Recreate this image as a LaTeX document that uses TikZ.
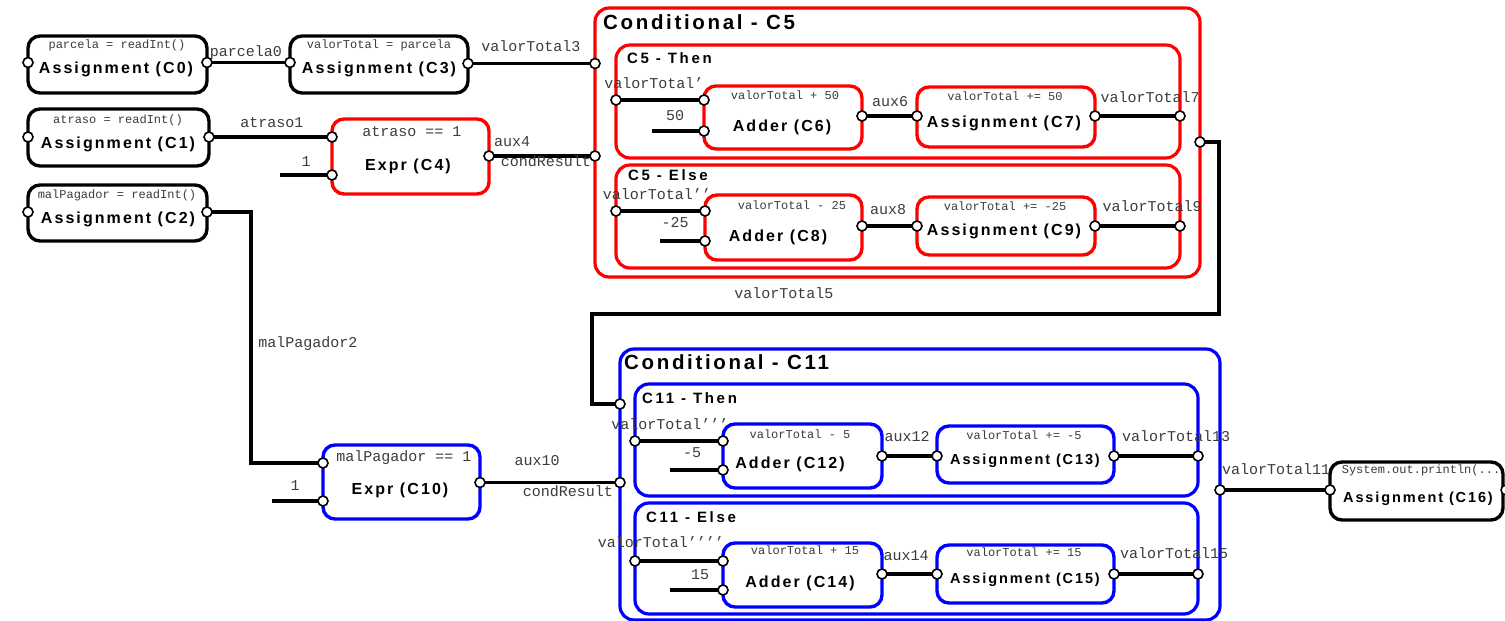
\documentclass[tikz,border=0pt]{standalone}
\usepackage{fontspec}
\setmainfont{Liberation Sans}
\newfontfamily\spaced{Liberation Sans}[LetterSpace=18]
\newfontfamily\spacedname{Liberation Sans}[LetterSpace=13]
\newfontfamily\spacedbig{Liberation Sans}[LetterSpace=13]
\newfontfamily\codefont{Liberation Mono}
\definecolor{codegray}{RGB}{60,60,60}
\definecolor{condred}{RGB}{255,0,0}
\definecolor{condblue}{RGB}{0,0,255}

\tikzset{
  block/.style={draw, rounded corners=12, line width=3.4, inner sep=0},
  grp/.style={draw, rounded corners=14, line width=3.2, inner sep=0},
  wire/.style={line width=3.3},
  port/.style={circle, draw, fill=white, line width=1.6, minimum size=10, inner sep=0},
  blockname/.style={anchor=base, inner sep=0, font=\spacedname\bfseries\fontsize{16}{18}\selectfont},
  blocknamesmall/.style={anchor=base, inner sep=0, font=\spacedname\bfseries\fontsize{14.5}{16}\selectfont},
  code/.style={anchor=base, inner sep=0, text=codegray, font=\codefont\fontsize{12}{14}\selectfont},
  lbl/.style={anchor=base, inner sep=0, text=codegray, font=\codefont\fontsize{15}{17}\selectfont},
  grptitle/.style={anchor=base west, inner sep=0, font=\spaced\bfseries\fontsize{15}{17}\selectfont},
  bigtitle/.style={anchor=base west, inner sep=0, font=\spacedbig\bfseries\fontsize{20.5}{22}\selectfont},
}

\begin{document}
\begin{tikzpicture}[x=1pt, y=-1pt]
\fill[white] (0,0) rectangle (1505,621);
\useasboundingbox (0,0) rectangle (1505,621);

% ---------- conditional groups ----------
\node[grp, draw=condred, minimum width=605, minimum height=269] (c5) at (897.5,142.5) {};
\node[grp, draw=condred, minimum width=564, minimum height=113] (c5then) at (898,101.5) {};
\node[grp, draw=condred, minimum width=564, minimum height=103] (c5else) at (898,216.5) {};
\node[grp, draw=condblue, minimum width=600, minimum height=271] (c11) at (920,484.5) {};
\node[grp, draw=condblue, minimum width=563, minimum height=112] (c11then) at (916.5,440) {};
\node[grp, draw=condblue, minimum width=563, minimum height=111] (c11else) at (916.5,558.5) {};

\node[bigtitle] (t5) at (603,29.5) {Conditional - C5};
\node[grptitle] (t5a) at (627,63.5) {C5 - Then};
\node[grptitle] (t5b) at (628,180.5) {C5 - Else};
\node[bigtitle] (t11) at (624,369.5) {Conditional - C11};
\node[grptitle] (t11a) at (642,403.5) {C11 - Then};
\node[grptitle] (t11b) at (646,522.5) {C11 - Else};

% ---------- blocks ----------
\node[block, minimum width=179, minimum height=57] (c0) at (117.5,64.5) {};
\node[block, minimum width=178, minimum height=57] (c3) at (379,64.5) {};
\node[block, minimum width=181, minimum height=57] (c1) at (118.5,137.5) {};
\node[block, minimum width=179, minimum height=56] (c2) at (117.5,213) {};
\node[block, draw=condred, minimum width=157, minimum height=75] (c4) at (410.5,156.5) {};
\node[block, draw=condblue, minimum width=157, minimum height=74] (c10) at (401.5,482) {};
\node[block, draw=condred, minimum width=158, minimum height=63] (c6) at (783,117.5) {};
\node[block, draw=condred, minimum width=178, minimum height=60] (c7) at (1006,117) {};
\node[block, draw=condred, minimum width=157, minimum height=65] (c8) at (783.5,227.5) {};
\node[block, draw=condred, minimum width=178, minimum height=58] (c9) at (1006,226) {};
\node[block, draw=condblue, minimum width=159, minimum height=64] (c12) at (802.5,456) {};
\node[block, draw=condblue, minimum width=177, minimum height=57] (c13) at (1025.5,454.5) {};
\node[block, draw=condblue, minimum width=159, minimum height=64] (c14) at (802.5,575) {};
\node[block, draw=condblue, minimum width=177, minimum height=58] (c15) at (1025.5,574) {};
\node[block, minimum width=173, minimum height=58] (c16) at (1416.5,491) {};

% block texts
\node[code] (c0code) at (117,48.5) {parcela = readInt()};
\node[blockname] (c0name) at (116,73) {Assignment (C0)};
\node[code] (c3code) at (379,48.5) {valorTotal = parcela};
\node[blockname] (c3name) at (379,73) {Assignment (C3)};
\node[code] (c1code) at (118,123.5) {atraso = readInt()};
\node[blockname] (c1name) at (118,148) {Assignment (C1)};
\node[code] (c2code) at (117,198.5) {malPagador = readInt()};
\node[blockname] (c2name) at (118,223) {Assignment (C2)};
\node[lbl] (c4code) at (412,136) {atraso == 1};
\node[blockname] (c4name) at (408,170.5) {Expr (C4)};
\node[lbl] (c10code) at (404,461) {malPagador == 1};
\node[blockname] (c10name) at (400,494.5) {Expr (C10)};
\node[code] (c6code) at (785,99.5) {valorTotal + 50};
\node[blockname] (c6name) at (782,131.5) {Adder (C6)};
\node[code] (c7code) at (1005,100.5) {valorTotal += 50};
\node[blockname] (c7name) at (1004,127.5) {Assignment (C7)};
\node[code] (c8code) at (792,209.5) {valorTotal - 25};
\node[blockname] (c8name) at (778,241.5) {Adder (C8)};
\node[code] (c9code) at (1005,210.5) {valorTotal += -25};
\node[blockname] (c9name) at (1004,235.5) {Assignment (C9)};
\node[code] (c12code) at (800,438.5) {valorTotal - 5};
\node[blockname] (c12name) at (790,468.5) {Adder (C12)};
\node[code] (c13code) at (1024,439.5) {valorTotal += -5};
\node[blocknamesmall] (c13name) at (1025,464) {Assignment (C13)};
\node[code] (c14code) at (805,554.5) {valorTotal + 15};
\node[blockname] (c14name) at (800,587.5) {Adder (C14)};
\node[code] (c15code) at (1024,556.5) {valorTotal += 15};
\node[blocknamesmall] (c15name) at (1025,583) {Assignment (C15)};
\node[code] (c16code) at (1421,473.5) {System.out.println(...};
\node[blocknamesmall] (c16name) at (1418,502) {Assignment (C16)};

% ---------- ports ----------
\coordinate (c0i) at (28,62.5);  \coordinate (c0o) at (207,62.5);
\coordinate (c3i) at (290,62.5); \coordinate (c3o) at (468,63.5);
\coordinate (c1i) at (28,137);   \coordinate (c1o) at (209,137);
\coordinate (c2i) at (28,212);   \coordinate (c2o) at (207,212);
\coordinate (c4a) at (332,137);  \coordinate (c4b) at (332,175);  \coordinate (c4o) at (489,156);
\coordinate (c5a) at (595,63.5); \coordinate (c5b) at (595,156);  \coordinate (c5o) at (1200,142);
\coordinate (c5ti) at (616,100); \coordinate (c5to) at (1180,116);
\coordinate (c6a) at (704,100);  \coordinate (c6b) at (704,131);  \coordinate (c6o) at (862,116);
\coordinate (c7i) at (917,116);  \coordinate (c7o) at (1095,116);
\coordinate (c5ei) at (616,211); \coordinate (c5eo) at (1180,226);
\coordinate (c8a) at (705,211);  \coordinate (c8b) at (705,241);  \coordinate (c8o) at (862,226);
\coordinate (c9i) at (917,226);  \coordinate (c9o) at (1095,226);
\coordinate (c10a) at (323,463); \coordinate (c10b) at (323,501); \coordinate (c10o) at (480,482.5);
\coordinate (c11a) at (620,404); \coordinate (c11b) at (620,482.5); \coordinate (c11o) at (1220,490);
\coordinate (c11ti) at (635,441); \coordinate (c11to) at (1198,456);
\coordinate (c12a) at (723,441); \coordinate (c12b) at (723,470); \coordinate (c12o) at (882,456);
\coordinate (c13i) at (937,456); \coordinate (c13o) at (1114,456);
\coordinate (c11ei) at (635,561); \coordinate (c11eo) at (1198,574);
\coordinate (c14a) at (723,561); \coordinate (c14b) at (723,590); \coordinate (c14o) at (882,574);
\coordinate (c15i) at (937,574); \coordinate (c15o) at (1114,574);
\coordinate (c16i) at (1330,490); \coordinate (c16o) at (1506,490);

% constant inputs and bends
\coordinate (k4) at (280,175);
\coordinate (k6) at (652,131);
\coordinate (k8) at (660,241);
\coordinate (k10) at (272,501);
\coordinate (k12) at (670,470);
\coordinate (k14) at (670,590);
\coordinate (bendA) at (251,212);
\coordinate (bendB) at (251,463);
\coordinate (bendC) at (1219,142);
\coordinate (bendD) at (1219,314);
\coordinate (bendE) at (592,314);
\coordinate (bendF) at (592,404);

% ---------- connectors ----------
\draw[wire] (c0o) -- (c3i);
\draw[wire] (c3o) -- (c5a);
\draw[wire] (c1o) -- (c4a);
\draw[wire] (k4) -- (c4b);
\draw[wire] (c4o) -- (c5b);
\draw[wire] (c2o) -- (bendA) -- (bendB) -- (c10a);
\draw[wire] (k10) -- (c10b);
\draw[wire] (c10o) -- (c11b);
\draw[wire] (c5ti) -- (c6a);
\draw[wire] (k6) -- (c6b);
\draw[wire] (c6o) -- (c7i);
\draw[wire] (c7o) -- (c5to);
\draw[wire] (c5ei) -- (c8a);
\draw[wire] (k8) -- (c8b);
\draw[wire] (c8o) -- (c9i);
\draw[wire] (c9o) -- (c5eo);
\draw[wire] (c5o) -- (bendC) -- (bendD) -- (bendE) -- (bendF) -- (c11a);
\draw[wire] (c11ti) -- (c12a);
\draw[wire] (k12) -- (c12b);
\draw[wire] (c12o) -- (c13i);
\draw[wire] (c13o) -- (c11to);
\draw[wire] (c11ei) -- (c14a);
\draw[wire] (k14) -- (c14b);
\draw[wire] (c14o) -- (c15i);
\draw[wire] (c15o) -- (c11eo);
\draw[wire] (c11o) -- (c16i);

\foreach \p in {c0i,c0o,c3i,c3o,c1i,c1o,c2i,c2o,c4a,c4b,c4o,c5a,c5b,c5o,
  c5ti,c5to,c6a,c6b,c6o,c7i,c7o,c5ei,c5eo,c8a,c8b,c8o,c9i,c9o,
  c10a,c10b,c10o,c11a,c11b,c11o,c11ti,c11to,c12a,c12b,c12o,c13i,c13o,
  c11ei,c11eo,c14a,c14b,c14o,c15i,c15o,c16i,c16o}
  \node[port] at (\p) {};

% ---------- connector labels ----------
\node[lbl] (l0) at (246,56) {parcela0};
\node[lbl] (l3) at (531,51) {valorTotal3};
\node[lbl] (l1) at (272,127) {atraso1};
\node[lbl] (l4k) at (306,166) {1};
\node[lbl] (l4a) at (512,146) {aux4};
\node[lbl] (l4b) at (546,166) {condResult};
\node[lbl] (l2) at (308,347) {malPagador2};
\node[lbl] (l10a) at (537,465) {aux10};
\node[lbl] (l10b) at (568,496) {condResult};
\node[lbl] (l10k) at (295,490) {1};
\node[lbl] (l5) at (784,298) {valorTotal5};
\node[lbl] (l11) at (1276,474) {valorTotal11};
\node[lbl] (l5t) at (654,88) {valorTotal’};
\node[lbl] (l6k) at (675,120) {50};
\node[lbl] (l6) at (890,106) {aux6};
\node[lbl] (l7) at (1150,102) {valorTotal7};
\node[lbl] (l5e) at (657,199) {valorTotal’’};
\node[lbl] (l8k) at (675,227) {-25};
\node[lbl] (l8) at (888,214) {aux8};
\node[lbl] (l9) at (1152,211) {valorTotal9};
\node[lbl] (l11t) at (670,429) {valorTotal’’’};
\node[lbl] (l12k) at (692,457) {-5};
\node[lbl] (l12) at (907,441) {aux12};
\node[lbl] (l13) at (1176,441) {valorTotal13};
\node[lbl] (l11e) at (661,547) {valorTotal’’’’};
\node[lbl] (l14k) at (700,579) {15};
\node[lbl] (l14) at (906,560) {aux14};
\node[lbl] (l15) at (1174,558) {valorTotal15};
\end{tikzpicture}
\end{document}
